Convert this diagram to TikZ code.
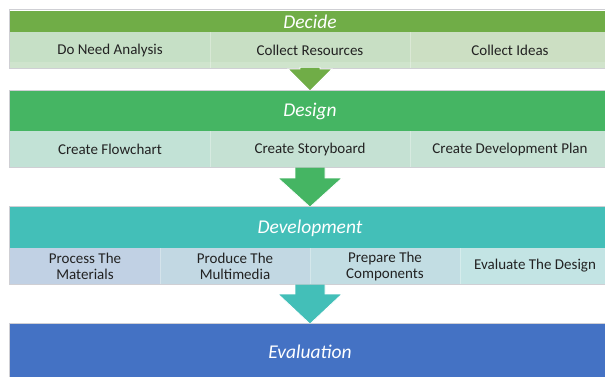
\documentclass[tikz,border=0pt]{standalone}
\usepackage{fontspec}
\setmainfont{Carlito}
\definecolor{decG}{HTML}{70AD47}
\definecolor{desG}{HTML}{45B563}
\definecolor{devT}{HTML}{43BFB8}
\definecolor{evaB}{HTML}{4472C4}
\definecolor{frameC}{HTML}{CFCFD4}
\definecolor{txt}{HTML}{222222}
\definecolor{da}{HTML}{C6E0C6}
\definecolor{db}{HTML}{C8DFC4}
\definecolor{dc}{HTML}{CCDFC3}
\definecolor{dstrip}{HTML}{D5E8D2}
\definecolor{ga}{HTML}{C2E2D6}
\definecolor{gb}{HTML}{C5E1D3}
\definecolor{gc}{HTML}{C6E2D4}
\definecolor{ta}{HTML}{C1D1E4}
\definecolor{tb}{HTML}{C2D8E3}
\definecolor{tc}{HTML}{C2DDE3}
\definecolor{td}{HTML}{C3E4E4}
\tikzset{
  frame/.style={draw=frameC, line width=0.8pt, fill=white},
  title/.style={text=white, font=\fontsize{19.5}{22}\selectfont\itshape, inner sep=0pt, anchor=center},
  cell/.style={text=txt, font=\fontsize{15}{16}\selectfont, inner sep=0pt, anchor=center, align=center},
  divider/.style={draw=white, line width=0.5pt, opacity=0.3},
  arrowline/.style={draw=white, line width=0.8pt, line join=miter},
}
\begin{document}
\begin{tikzpicture}[x=1pt,y=-1pt]
\useasboundingbox (0,0) rectangle (605,376);
\fill[white] (0,0) rectangle (605,376);
% ---------- Decide ----------
\draw[frame] (9,9) rectangle (615,68.5);
\fill[decG] (10,11) rectangle (615,32);
\fill[da] (10,32) rectangle (210,68);
\fill[db] (210,32) rectangle (410,68);
\fill[dc] (410,32) rectangle (615,68);
\fill[dstrip, opacity=0.6] (10,62) rectangle (615,67.5);
\draw[divider] (210,32) -- (210,68);
\draw[divider] (410,32) -- (410,68);
\node[title] (decide) at (310,21.5) {Decide};
\node[cell] (d1) at (110,50) {Do Need Analysis};
\node[cell] (d2) at (310,50) {Collect Resources};
\node[cell] (d3) at (510,50) {Collect Ideas};
% arrow 1
\fill[decG] (300,68) -- (320,68) -- (320,69) -- (332,69) -- (310,91) -- (288,69) -- (300,69) -- cycle;
\draw[arrowline] (300,67) -- (300,69) -- (288,69) -- (310,91) -- (332,69) -- (320,69) -- (320,67);
% ---------- Design ----------
\draw[frame] (9,90) rectangle (615,167.5);
\fill[desG] (10,91) rectangle (615,131);
\fill[ga] (10,131) rectangle (210,167);
\fill[gb] (210,131) rectangle (410,167);
\fill[gc] (410,131) rectangle (615,167);
\draw[divider] (210,131) -- (210,167);
\draw[divider] (410,131) -- (410,167);
\node[title] (design) at (310,111) {Design};
\node[cell] (g1) at (110,149) {Create Flowchart};
\node[cell] (g2) at (310,149) {Create Storyboard};
\node[cell] (g3) at (510,149) {Create Development Plan};
% arrow 2
\fill[desG] (295,167.5) -- (325,167.5) -- (325,178) -- (342,178) -- (310,207) -- (278,178) -- (295,178) -- cycle;
\draw[arrowline] (295,167.5) -- (295,178) -- (278,178) -- (310,207) -- (342,178) -- (325,178) -- (325,167.5);
% ---------- Development ----------
\draw[frame] (9,206) rectangle (615,284.5);
\fill[devT] (10,207) rectangle (615,248);
\fill[ta] (10,248) rectangle (160,284);
\fill[tb] (160,248) rectangle (310,284);
\fill[tc] (310,248) rectangle (460,284);
\fill[td] (460,248) rectangle (615,284);
\draw[divider] (160,248) -- (160,284);
\draw[divider] (310,248) -- (310,284);
\draw[divider] (460,248) -- (460,284);
\node[title] (development) at (310,228) {Development};
\node[cell] (t1) at (85,266) {Process The\\Materials};
\node[cell] (t2) at (235,266) {Produce The\\Multimedia};
\node[cell] (t3) at (385,266) {Prepare The\\Components};
\node[cell] (t4) at (535,266) {Evaluate The Design};
% arrow 3
\fill[devT] (295,284.5) -- (325,284.5) -- (325,294) -- (342,294) -- (310,324) -- (278,294) -- (295,294) -- cycle;
\draw[arrowline] (295,284.5) -- (295,294) -- (278,294) -- (310,324) -- (342,294) -- (325,294) -- (325,284.5);
% ---------- Evaluation ----------
\draw[frame] (9,323) rectangle (615,390);
\fill[evaB] (10,324) rectangle (615,390);
\node[title] (evaluation) at (310,352) {Evaluation};
\end{tikzpicture}
\end{document}
